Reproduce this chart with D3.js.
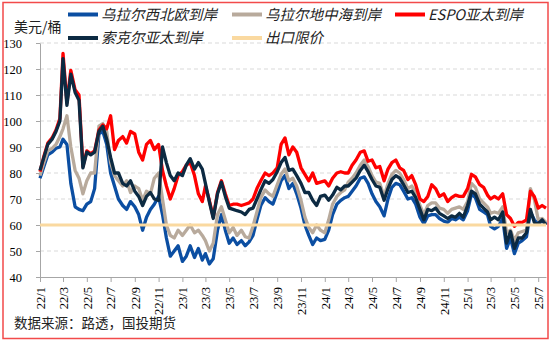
<!DOCTYPE html>
<html lang="zh">
<head>
<meta charset="UTF-8">
<title>乌拉尔、ESPO、索克尔原油到岸价</title>
<style>
  body { margin: 0; background: #fff; }
  svg { display: block; }
</style>
</head>
<body>
<script src="https://d3js.org/d3.v7.min.js"></script>
<script>
const width = 554, height = 344;
const margin = {left: 40, right: 8, top: 43, bottom: 67};

// readings taken on the 1st, 11th and 21st of each month, 2022/1 - 2025/7
const months = d3.timeMonths(new Date(2022, 0, 1), new Date(2025, 7, 1));
const dates = months.flatMap(m => [1, 11, 21].map(d => new Date(m.getFullYear(), m.getMonth(), d)));

// 乌拉尔西北欧到岸
const uralsNWE = [
  78, 82.5, 87,  88, 89.5, 90,  93, 91, 76,  67, 66, 65.5,  68, 69, 74,  95, 96, 91,
  80, 75, 70,  67.5, 66, 69,  67, 64, 58,  63, 66, 68,  71, 64, 55,  48, 50, 52,
  46, 48, 52,  47.5, 51, 46.5,  49, 45, 47,  58, 64, 58,  53, 55, 52.5,  54, 52, 53.5,
  56, 62, 67.5,  70.5, 69, 68,  72.5, 77, 79,  74, 76, 72,  66.5, 60, 56,  52.5, 55, 54,
  54.5, 58, 64,  68, 69.5, 70.5,  71, 73, 75,  78, 78.5, 76,  72, 69, 67,  63.5, 70, 74.5,
  76, 75.5, 73,  70, 70.5, 68,  63, 60.5, 63.5,  64, 64, 62.5,  61.5, 61, 62.5,  62, 63, 62,
  65.5, 72, 70.5,  66, 65, 64,  59.5, 58.5, 59.5,  62.5, 51, 55,  49, 53, 54,  55.5, 65, 62,
  60.5, 61.5, 60.5
];
// 乌拉尔地中海到岸
const uralsMed = [
  79, 84, 88.5,  89.5, 91, 94,  97, 102, 90,  81, 78, 72,  77, 80, 80,  98, 99, 96,
  84, 79, 77,  75, 77, 72.5,  75, 74, 69.5,  73, 72, 78,  80, 70, 60,  56, 55, 58,
  56, 58, 60,  57, 58, 56,  54, 50, 53,  64, 67, 62,  57, 59, 56,  58, 55.5, 55,
  59.5, 65, 70.5,  73.5, 72, 71,  75.5, 79.5, 81.5,  77, 78, 75,  69.5, 63, 59,  57, 60, 58,
  57, 62, 68,  71, 72.5, 73.5,  76.5, 78, 80,  83, 85, 82.5,  79, 76.5, 76,  71, 76, 79.5,
  81, 80, 77.5,  74, 75, 72.5,  67.5, 64, 67.5,  68.5, 68.5, 66.5,  66, 64.5, 66,  66.5, 67, 66,
  69, 76, 74.5,  70, 68.5, 67,  64.5, 65, 64.5,  67, 57, 58,  54, 57, 57.5,  58, 74, 70,
  62, 62.5, 61
];
// ESPO亚太到岸
const espo = [
  80.5, 86.5, 91.5,  93.5, 96.5, 101,  126, 107, 119.5,  112, 110, 82.5,  88.5, 87.5, 88.5,  96.5, 98.5, 97,
  102, 89, 92.5,  94, 91.5, 96,  95, 88, 85,  91, 92.5, 89,  91, 81, 75,  70, 74, 79,
  80.5, 83, 84,  79, 72, 69,  75, 69.5, 63,  72.5, 77, 72,  67.5, 68, 68,  67.5, 68, 68.5,
  70, 74, 77,  80, 79, 80,  82, 91, 93.5,  87, 90, 88,  82, 79.5, 77,  80, 76, 76.5,
  77, 75, 78,  80, 80.5, 80,  80, 83, 85,  88, 88.5, 84.5,  85, 82, 82.5,  77, 81.5, 84,
  85, 82, 81,  77.5, 79, 75.5,  70, 69, 71,  75.5, 74, 71,  72, 69, 70.5,  71.5, 71, 71,
  74, 79.5, 78.5,  75.5, 74.5, 71.5,  70, 71, 70,  72, 64, 62.5,  59.5, 61, 61,  62, 73, 71,
  66.5, 67.5, 66.5
];
// 索克尔亚太到岸
const sokol = [
  81, 86, 91,  93, 96, 100,  124, 106, 118,  111, 108, 82,  88, 87, 88,  96, 98, 93,
  86, 80, 80,  76, 75, 77,  73, 71, 67.5,  71, 72.5, 70,  69.5, 90, 84,  79, 77, 80,
  79, 83, 85.5,  81.5, 84, 81.5,  76, 69, 62.5,  72, 76.5, 71,  66.5, 66, 65.5,  65, 64, 66,
  66.5, 70, 73.5,  77, 76, 77.5,  80.5, 84, 86,  81, 81.5, 79,  76, 72.5, 72.5,  69.5, 67.5, 71,
  71.5, 69.5, 71.5,  74.5, 73.5, 75,  75, 76.5, 78,  81, 83, 80.5,  77.5, 75, 74.5,  69.5, 74, 77.5,
  79, 78, 75.5,  72.5, 73, 70.5,  66, 62, 66,  65.5, 66.5, 64.5,  63.5, 62.5, 63.5,  63, 64.5, 63,
  67.5, 73, 72,  68, 66.5, 65,  62, 63, 62,  65, 53, 57.5,  51, 55, 55,  57, 66, 61,
  60.5, 62, 60
];
// 出口限价
const priceCap = 60;

const yTicks = [40, 50, 60, 70, 80, 90, 100, 110, 120, 130];

const series = [
  {name: "乌拉尔西北欧到岸", values: uralsNWE, color: "#0b4ea2"},
  {name: "乌拉尔地中海到岸", values: uralsMed, color: "#b8aa9c"},
  {name: "ESPO亚太到岸", values: espo, color: "#ff0000"},
  {name: "索克尔亚太到岸", values: sokol, color: "#0c2a42"}
];
const capColor = "#fad9a0";

const svg = d3.select("body").append("svg")
  .attr("width", width)
  .attr("height", height);

svg.append("rect")
  .attr("x", 3).attr("y", 2.5)
  .attr("width", 545).attr("height", 336)
  .attr("fill", "none")
  .attr("stroke", "#f24a4a")
  .attr("stroke-width", 1.5);

const x = d3.scaleTime()
  .domain([dates[0], dates[dates.length - 1]])
  .range([margin.left, width - margin.right]);

const y = d3.scaleLinear()
  .domain([40, 130])
  .range([height - margin.bottom, margin.top]);

// dashed grid
svg.append("g")
  .selectAll("line")
  .data(yTicks.slice(1))
  .join("line")
  .attr("x1", margin.left)
  .attr("x2", width - margin.right)
  .attr("y1", d => y(d))
  .attr("y2", d => y(d))
  .attr("stroke", "#d9d9d9")
  .attr("stroke-dasharray", "4,3");

// axes
const yAxis = svg.append("g")
  .attr("transform", `translate(${margin.left},0)`)
  .call(d3.axisLeft(y).tickValues(yTicks).tickSize(4).tickSizeOuter(0));

yAxis.selectAll("text").attr("x", -18);

const xAxis = svg.append("g")
  .attr("transform", `translate(0,${height - margin.bottom})`)
  .call(d3.axisBottom(x)
    .ticks(d3.timeMonth.every(2))
    .tickFormat(d3.timeFormat("%y/%-m"))
    .tickSize(5)
    .tickSizeOuter(0));

xAxis.selectAll("text")
  .attr("transform", "rotate(-90)")
  .attr("x", -10)
  .attr("y", 0)
  .attr("dy", "0.35em")
  .style("text-anchor", "end");

[xAxis, yAxis].forEach(g => {
  g.selectAll("path, line").attr("stroke", "#a6a6a6");
  g.selectAll("text")
    .attr("fill", "#000")
    .style("font-family", "'Liberation Serif', 'DejaVu Serif', serif")
    .style("font-size", "12.5px");
});

// lines
const line = d3.line()
  .x((d, i) => x(dates[i]))
  .y(d => y(d));

svg.append("g")
  .selectAll("path")
  .data(series)
  .join("path")
  .attr("d", d => line(d.values))
  .attr("fill", "none")
  .attr("stroke", d => d.color)
  .attr("stroke-width", 3.3)
  .attr("stroke-linejoin", "round");

svg.append("line")
  .attr("x1", margin.left)
  .attr("x2", width - margin.right)
  .attr("y1", y(priceCap))
  .attr("y2", y(priceCap))
  .attr("stroke", capColor)
  .attr("stroke-width", 3);

// legend
const legendItems = [
  {name: series[0].name, color: series[0].color, x: 68, y: 14.5},
  {name: series[1].name, color: series[1].color, x: 232, y: 14.5},
  {name: series[2].name, color: series[2].color, x: 395, y: 14.5},
  {name: series[3].name, color: series[3].color, x: 68, y: 38},
  {name: "出口限价", color: capColor, x: 232, y: 38}
];

const legend = svg.append("g")
  .selectAll("g")
  .data(legendItems)
  .join("g")
  .attr("transform", d => `translate(${d.x},${d.y})`);

legend.append("line")
  .attr("x1", 0).attr("x2", 30)
  .attr("stroke", d => d.color)
  .attr("stroke-width", 4);

legend.append("text")
  .attr("x", 33)
  .attr("dy", "0.36em")
  .style("font-family", "'Noto Sans CJK SC', sans-serif")
  .style("font-size", "14.5px")
  .style("font-style", "italic")
  .attr("fill", "#222")
  .text(d => d.name);

svg.append("text")
  .attr("x", 14).attr("y", 32)
  .style("font-family", "'Noto Sans CJK SC', sans-serif")
  .style("font-size", "14px")
  .attr("fill", "#222")
  .text("美元/桶");

svg.append("text")
  .attr("x", 14).attr("y", 328)
  .style("font-family", "'Noto Sans CJK SC', sans-serif")
  .style("font-size", "13.5px")
  .attr("fill", "#222")
  .text("数据来源：路透，国投期货");
</script>
</body>
</html>
